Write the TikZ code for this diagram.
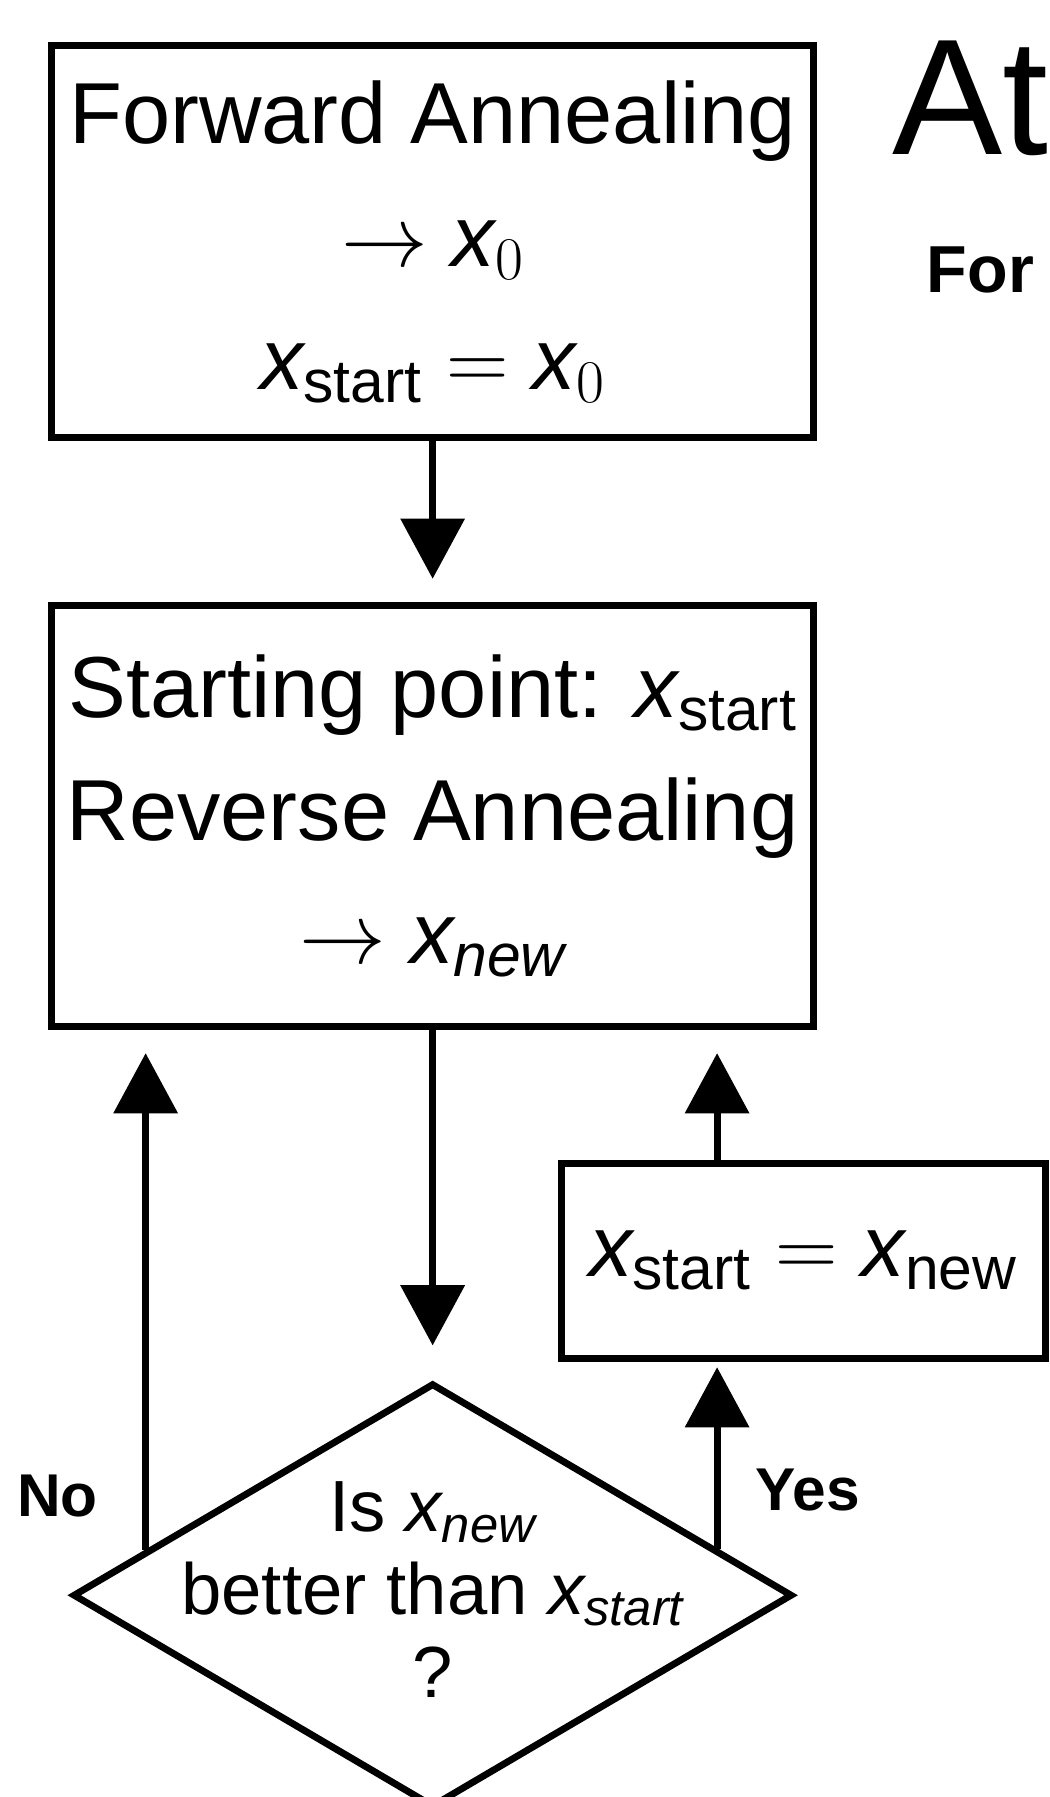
\RequirePackage{fix-cm}
\documentclass[tikz,border=0pt]{standalone}
\usepackage{amsmath}
\usepackage{fontspec}
\setmainfont{Liberation Sans}
\usepackage{tikz}
\usetikzlibrary{positioning, calc}
\usetikzlibrary{arrows.meta, shapes.geometric}
\tikzstyle{procbox}=[rectangle,line width=3.4pt,draw=black,minimum width=13.3cm,align=center,font=\fontsize{43}{61}\selectfont]
\tikzstyle{decbox}=[diamond,line width=3.4pt,draw=black,minimum width=12.56cm,minimum height=7.4cm,inner sep=0pt]
\tikzstyle{flowpath} = [-{Triangle[length=1.05cm,width=1.1cm]},line width=3.4pt,shorten >=0.4cm]

\begin{document}
\begin{tikzpicture}
        \clip (0,0) rectangle (18.32,-31.36);
        \node[procbox, minimum height=6.84cm] (n1) at (7.55,-4.22) {Forward Annealing\\ $\rightarrow \textit{x}_0$\\ $\textit{x}_{\text{start}} = \textit{x}_0$};
        \node[procbox, minimum height=7.36cm, below =2.8cm of n1] (n2) {Starting point: $\textit{x}_{\text{start}}$\\ Reverse Annealing\\ $\rightarrow \textit{x}_{\textit{new}}$};
        \node[procbox, minimum width=8.44cm, minimum height=3.4cm] (n3) at (14.02,-22.0) {$\textit{x}_{\text{start}} = \textit{x}_{\text{new}}$};
        \node[decbox, below =6.1cm of n2] (n4) {};
        \node[align=center, font=\fontsize{36}{41}\selectfont] (q) at ([yshift=0.1cm]n4.center) {Is $\textit{x}_{\textit{new}}$\\ better than $\textit{x}_{\textit{start}}$\\ ?};
        \node[font=\bfseries\fontsize{30}{36}\selectfont] (no) at (1.0,-26.1) {No};
        \node[font=\bfseries\fontsize{30}{36}\selectfont] (yes) at (14.1,-26.0) {Yes};
        \node[anchor=base west, font=\fontsize{82}{96}\selectfont] (ttl) at (15.45,-2.7) {At};
        \node[anchor=base west, font=\bfseries\fontsize{33}{38}\selectfont] (sub) at (16.05,-5.1) {For};

        \coordinate (noend) at ($(n4.west)!0.21!(n4.north)$);
        \coordinate (yesend) at ($(n4.east)!0.217!(n4.north)$);

        \path[flowpath]
            (n1) edge (n2)
            (n2) edge [shorten >=0.6cm] (n4)
            (noend) edge (noend |- n2.south)
            (yesend) edge [shorten >=0.1cm] (yesend |- n3.south)
            (yesend |- n3.north) edge (yesend |- n2.south);
\end{tikzpicture}
\end{document}
